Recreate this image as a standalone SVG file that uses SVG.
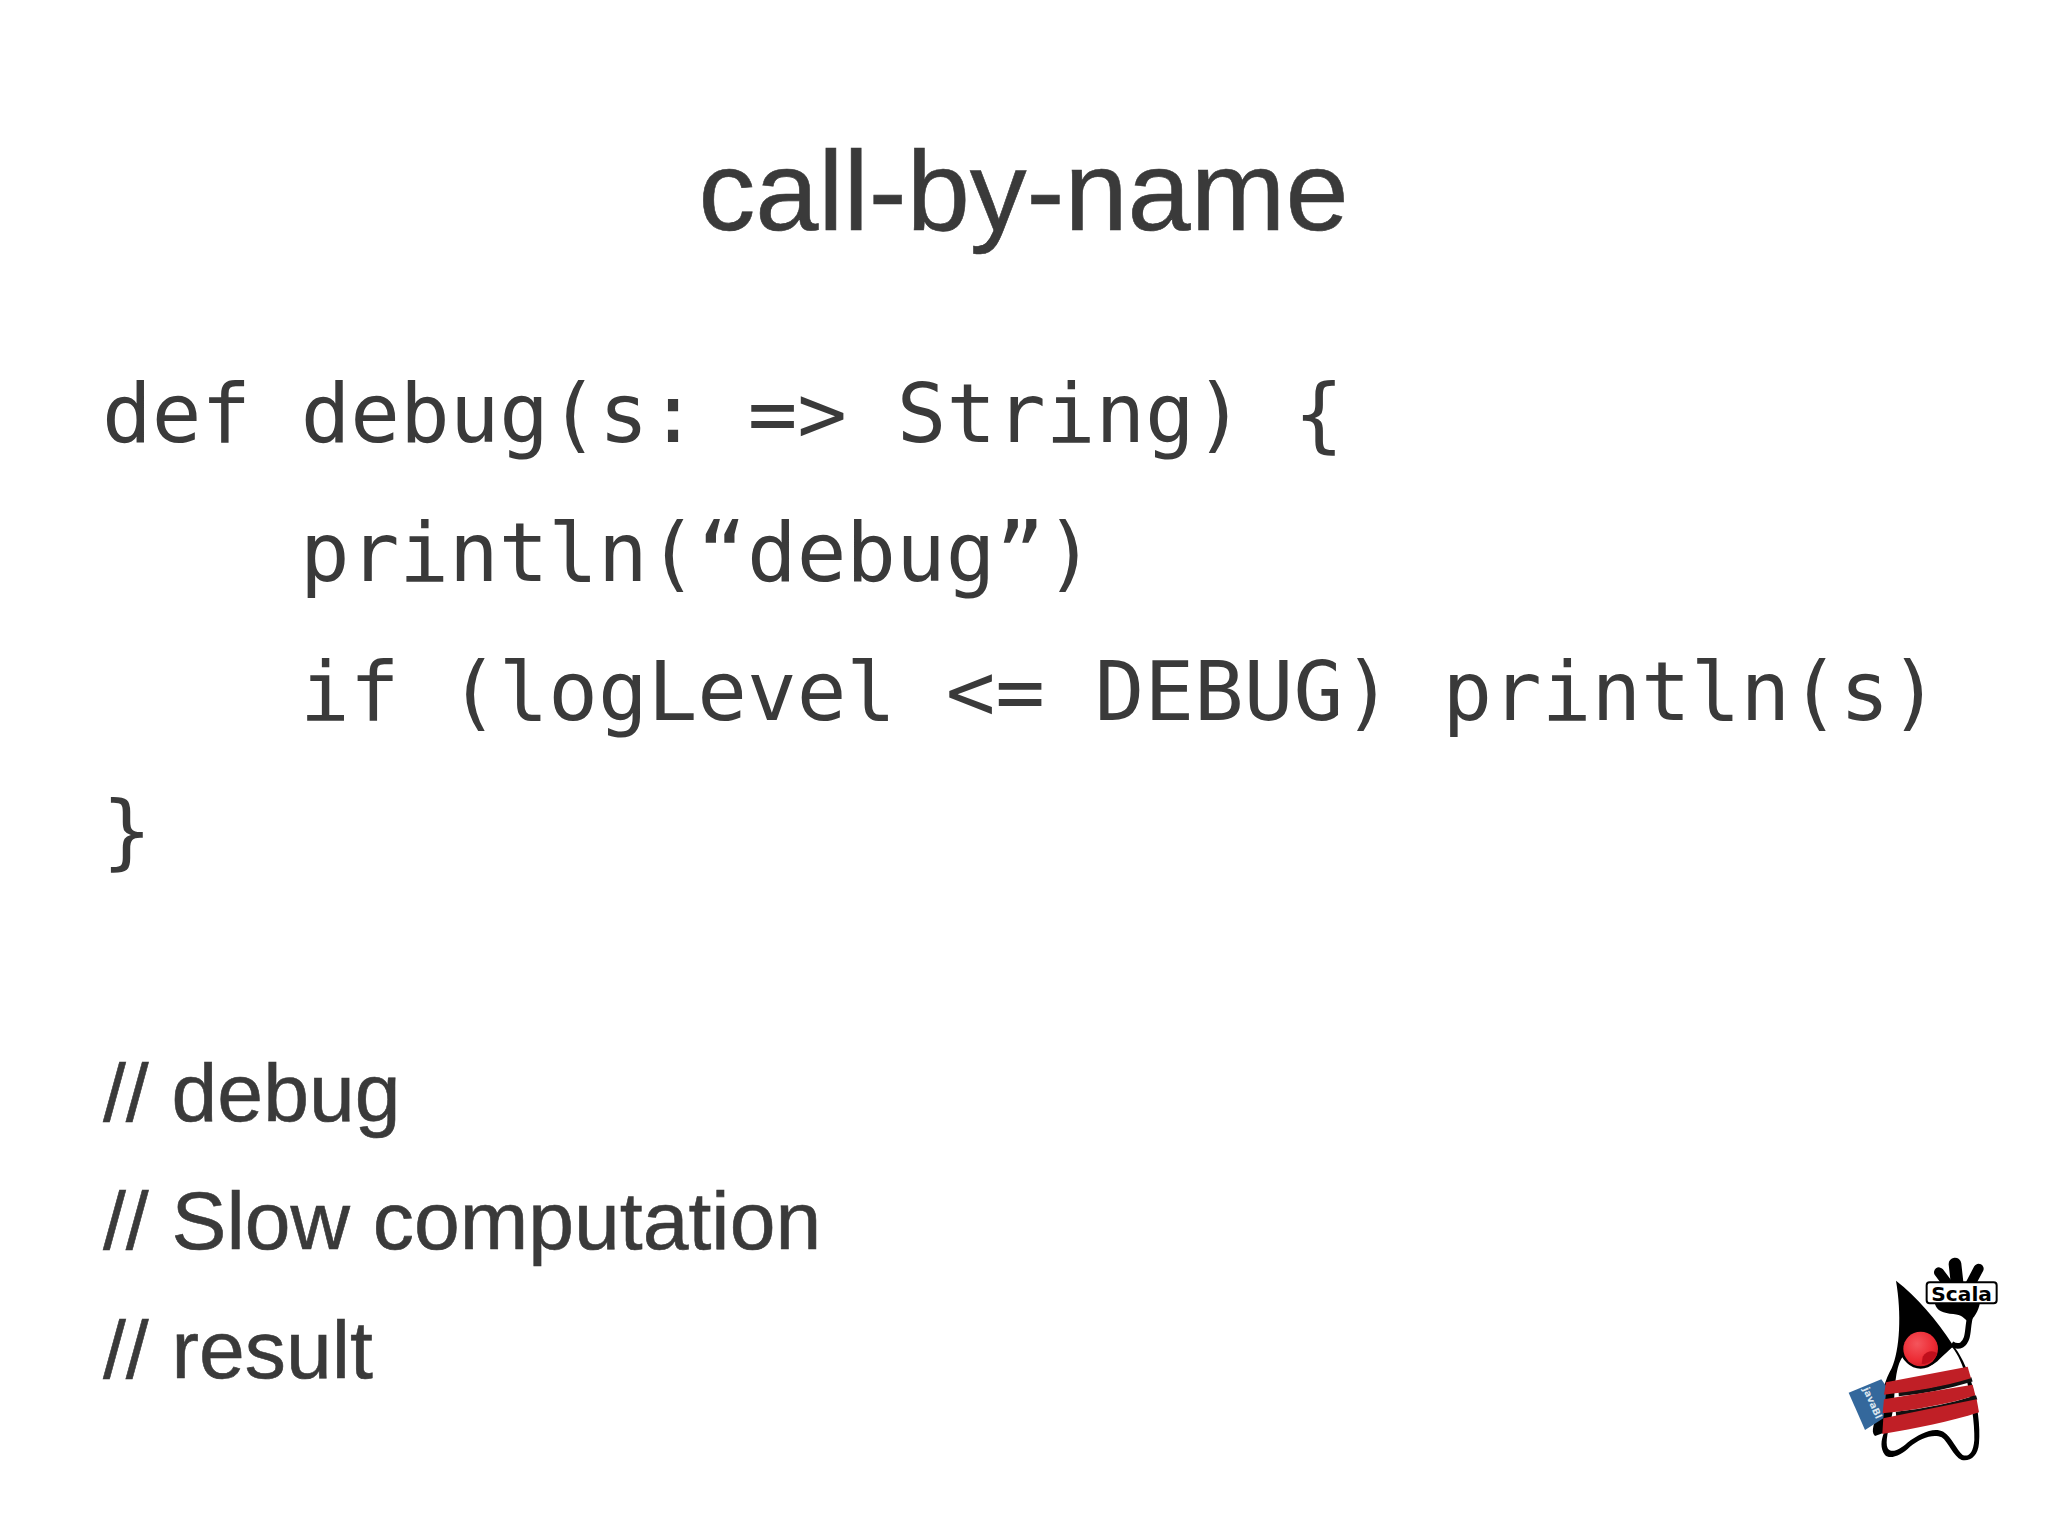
<svg xmlns="http://www.w3.org/2000/svg" width="2048" height="1535" viewBox="0 0 2048 1535">
<style>
.s{font-family:"Liberation Sans",Arial,sans-serif;fill:#3a3a3a;stroke:#3a3a3a;stroke-width:.6px}
.m{font-family:"DejaVu Sans Mono",monospace;fill:#3a3a3a;font-size:82.5px}
.c{font-size:82.3px}
</style>
<defs>
<radialGradient id="nose" cx=".4" cy=".35" r=".7"><stop offset="0" stop-color="#f4555c"/><stop offset=".7" stop-color="#ec2a33"/><stop offset="1" stop-color="#d01c26"/></radialGradient>
</defs>
<rect width="2048" height="1535" fill="#fff"/>
<text class="s" x="1023.5" y="230" font-size="113.6" text-anchor="middle">call-by-name</text>
<g id="code">
<text class="m" x="102" y="442">def debug(s: =&gt; String) {</text>
<text class="m" x="300" y="581">println(“debug”)</text>
<text class="m" x="300" y="720">if (logLevel &lt;= DEBUG) println(s)</text>
<text class="m" x="102" y="859">}</text>
</g>
<g id="output">
<text class="s c" x="103" y="1121">// debug</text>
<text class="s c" x="103" y="1249">// Slow computation</text>
<text class="s c" x="103" y="1378">// result</text>
</g>
<g id="mascot" transform="translate(1820 1240) scale(.3333)">
<path d="M228 122 C290 170 350 240 398 314 C420 340 440 380 455 430 C472 490 482 560 477 610 C474 650 450 665 425 660 C400 650 385 605 365 592 C340 580 300 595 270 620 C245 645 210 660 195 645 C180 625 183 600 192 578 L165 588 C150 575 165 545 175 510 C185 460 195 420 215 385 C240 330 245 220 228 122Z" fill="#000"/>
<path d="M228 412 C232 385 238 365 247 352 C265 385 325 395 358 358 C372 345 385 332 397 322 C415 345 428 375 438 410 C452 470 465 550 463 600 C460 640 445 652 428 645 C410 630 395 590 370 575 C340 560 300 580 262 608 C240 628 215 642 203 625 C195 605 205 570 215 530 C225 490 222 445 228 412Z" fill="#fff"/>
<path d="M452 225 C440 260 450 298 425 315 C415 320 405 318 395 312" fill="none" stroke="#000" stroke-width="17"/>
<g stroke="#000" stroke-linecap="round" fill="none">
<path d="M357 97 L388 138" stroke-width="30"/>
<path d="M405 72 L412 135" stroke-width="38"/>
<path d="M476 86 L450 135" stroke-width="30"/>
</g>
<path d="M345 192 C350 212 370 220 400 222 C425 224 432 235 445 245 C462 235 475 215 480 188Z" fill="#000"/>
<rect x="320" y="127" width="210" height="63" rx="9" fill="#fff" stroke="#000" stroke-width="6"/>
<text x="334" y="183" font-family="DejaVu Sans,sans-serif" font-weight="700" font-size="57" textLength="182" lengthAdjust="spacingAndGlyphs" fill="#000">Scala</text>
<circle cx="302" cy="328" r="58" fill="#000"/>
<circle cx="302" cy="327" r="52" fill="url(#nose)"/>
<path d="M308 350 C320 330 345 330 352 342 C340 362 322 374 305 372Z" fill="#c00f1c"/>
<path d="M86 458 L184 418 L200 440 L190 535 L135 570Z" fill="#34689c"/>
<text transform="translate(128 447) rotate(66)" font-family="DejaVu Sans,sans-serif" font-weight="700" font-size="29" fill="#dbe5ee">javaBl</text>
<g fill="none" stroke="#111" stroke-width="13">
<path d="M236 462 C320 455 400 435 456 418"/>
<path d="M228 522 C320 512 400 495 470 472"/>
</g>
<g fill="#c01f26">
<path d="M198 427 L443 380 L453 415 C370 440 280 455 192 464Z"/>
<path d="M192 478 L458 434 L466 466 C380 495 280 510 188 520Z"/>
<path d="M190 535 L470 478 L477 517 C390 545 290 565 187 582Z"/>
</g>
</g>
</svg>
